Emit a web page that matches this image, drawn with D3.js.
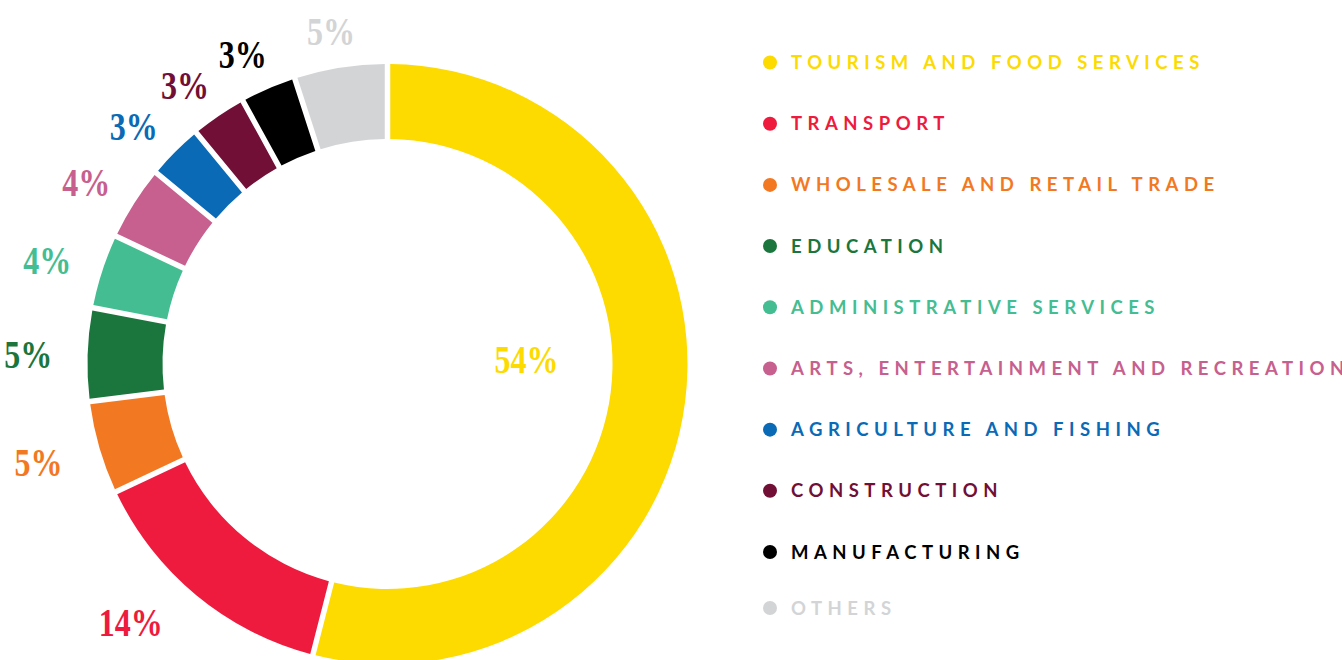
<!DOCTYPE html>
<html>
<head>
<meta charset="utf-8">
<script src="https://cdn.jsdelivr.net/npm/d3@7"></script>
<style>
  body { margin: 0; background: #fff; }
  svg { display: block; }
</style>
</head>
<body>
<div id="chart"></div>
<script>
const categories = [
    "TOURISM AND FOOD SERVICES",
    "TRANSPORT",
    "WHOLESALE AND RETAIL TRADE",
    "EDUCATION",
    "ADMINISTRATIVE SERVICES",
    "ARTS, ENTERTAINMENT AND RECREATION",
    "AGRICULTURE AND FISHING",
    "CONSTRUCTION",
    "MANUFACTURING",
    "OTHERS"
];
const shares = [54, 14, 5, 5, 4, 4, 3, 3, 3, 5];
const palette = ["#FDDA00", "#EE1B3E", "#F37822", "#1A763C", "#44BD92",
                 "#C7608E", "#0A6AB5", "#710F36", "#000000", "#D3D4D6"];

const width = 1342, height = 660;
const cx = 387.5, cy = 364;
const outer_r = 300, inner_r = 225;
const label_r = 347;

const data = categories.map((name, i) => ({ name: name, share: shares[i] }));

const color = d3.scaleOrdinal().domain(categories).range(palette);

const svg = d3.select("#chart").append("svg")
    .attr("width", width)
    .attr("height", height);

const g = svg.append("g").attr("transform", `translate(${cx},${cy})`);

const pie = d3.pie().sort(null).value(d => d.share);
const arc = d3.arc()
    .innerRadius(inner_r)
    .outerRadius(outer_r)
    .padRadius(outer_r)
    .padAngle(5.5 / outer_r);

const arcs = pie(data);

g.selectAll("path.slice")
    .data(arcs)
    .enter().append("path")
    .attr("class", "slice")
    .attr("d", arc)
    .attr("fill", d => color(d.data.name));

// percent labels: the big one sits inside the ring, the rest around it
const label_pos = (d, i) => {
    if (i === 0) return [139, -5];
    const a = d.startAngle + 0.6 * (d.endAngle - d.startAngle);
    return [-13 + label_r * Math.sin(a), 12 - label_r * Math.cos(a)];
};

g.selectAll("text.pct")
    .data(arcs)
    .enter().append("text")
    .attr("class", "pct")
    .attr("transform", (d, i) => {
        const p = label_pos(d, i);
        return `translate(${p[0]},${p[1] + 13.5}) scale(0.8,1)`;
    })
    .attr("text-anchor", "middle")
    .style("font-family", "'Liberation Serif', 'DejaVu Serif', serif")
    .style("font-weight", "bold")
    .style("font-size", "40px")
    .attr("fill", d => color(d.data.name))
    .text(d => d.data.share + "%");

// legend
const legend_y = d3.scalePoint()
    .domain(categories.slice(0, 9))
    .range([62.5, 552]);
const row_y = (name, i) => i < 9 ? legend_y(name) : legend_y(categories[8]) + 56;

const legend = svg.append("g").attr("transform", "translate(770,0)");

const rows = legend.selectAll("g.row")
    .data(data)
    .enter().append("g")
    .attr("class", "row")
    .attr("transform", (d, i) => `translate(0,${row_y(d.name, i)})`);

rows.append("circle")
    .attr("r", 7)
    .attr("fill", d => color(d.name));

rows.append("text")
    .attr("x", 21)
    .attr("y", 6.5)
    .style("font-family", "Lato, 'Open Sans', sans-serif")
    .style("font-weight", "bold")
    .style("font-size", "18.5px")
    .style("letter-spacing", "5.5px")
    .attr("fill", d => color(d.name))
    .text(d => d.name);
</script>
</body>
</html>
